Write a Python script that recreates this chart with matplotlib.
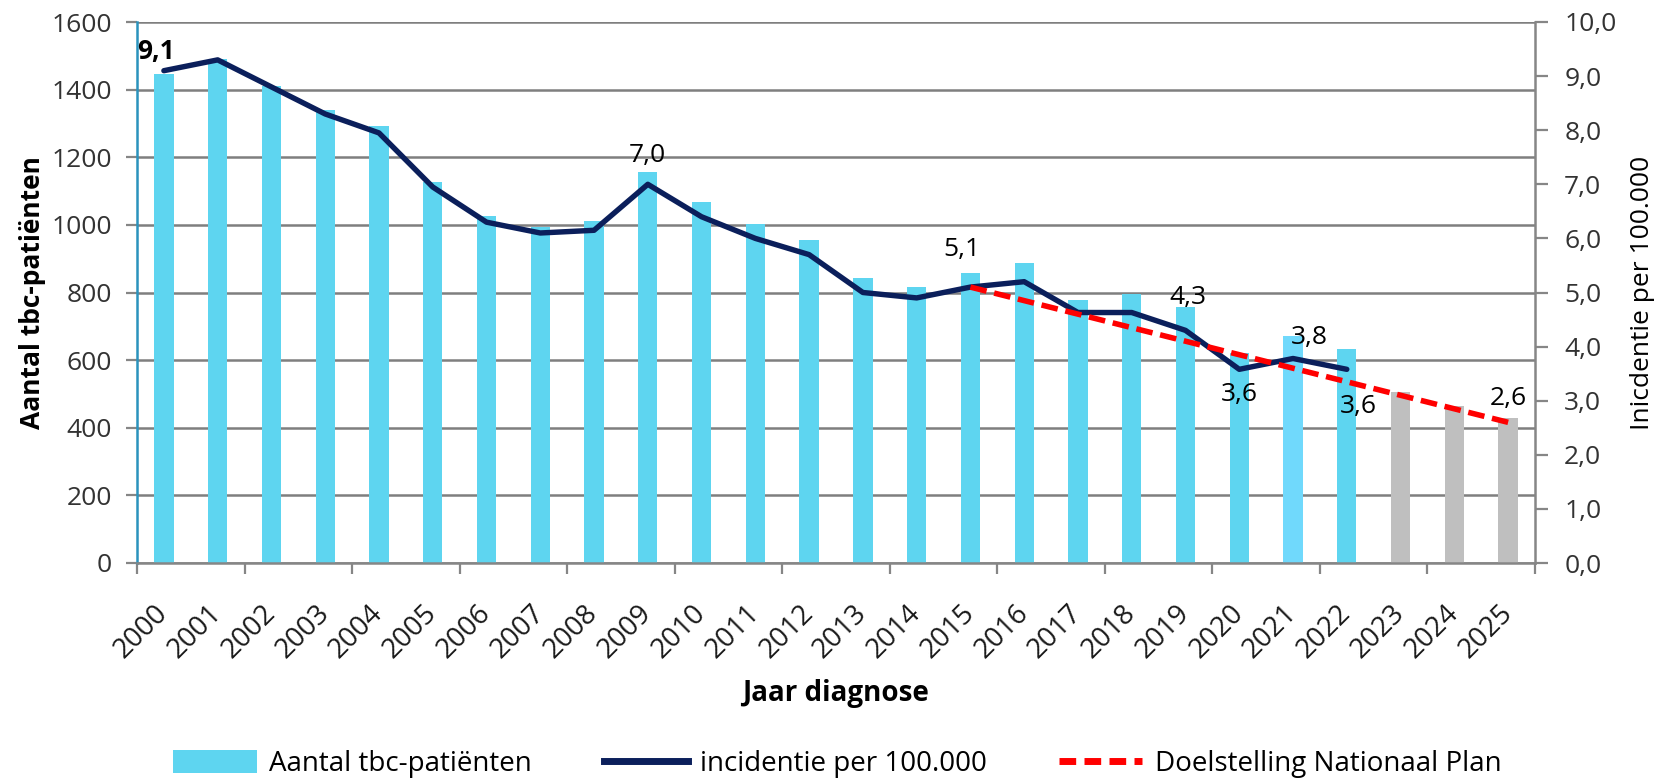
import matplotlib
matplotlib.use("Agg")
import matplotlib.pyplot as plt
from matplotlib.ticker import FuncFormatter
from matplotlib.lines import Line2D
from matplotlib.patches import Patch

plt.rcParams['font.family'] = ['Open Sans', 'DejaVu Sans']

# data
jaren = [str(j) for j in range(2000, 2026)]
patienten = [1447, 1490, 1411, 1340, 1291, 1127, 1027, 993, 1010, 1155,
             1069, 1003, 956, 842, 815, 859, 887, 778, 795, 757,
             620, 670, 633, 505, 465, 428]
incidentie = [9.1, 9.3, 8.8, 8.3, 7.95, 6.95, 6.3, 6.1, 6.15, 7.0,
              6.4, 6.0, 5.7, 5.0, 4.9, 5.1, 5.2, 4.63, 4.63, 4.3,
              3.58, 3.78, 3.58]
doel_jaren = jaren[15:]
doelstelling = [5.1, 4.85, 4.6, 4.35, 4.1, 3.85, 3.6, 3.35, 3.1, 2.85, 2.6]

# labels on the line: (index, text, offset in points)
labels_inc = [(0, "9,1", (-6, 14)), (9, "7,0", (0, 21)), (15, "5,1", (-6, 27)),
              (19, "4,3", (2, 24)), (20, "3,6", (0, -18)), (21, "3,8", (12, 15)),
              (22, "3,6", (8, -27))]

blauw = '#5ED5F0'
kleuren = [blauw] * 26
kleuren[21] = '#70D9FC'
for i in range(23, 26):
    kleuren[i] = '#BFBFBF'

fs = 19

fig = plt.figure(figsize=(16.65, 7.83), dpi=100)
ax = fig.add_axes([137/1665, 1 - 563/783, (1535 - 137)/1665, (563 - 22)/783])

x = list(range(len(jaren)))
ax.bar(x, patienten, width=0.36, color=kleuren, zorder=2)
ax.set_xlim(-0.5, len(jaren) - 0.5)
ax.set_ylim(0, 1600)
ax.set_yticks(range(0, 1601, 200))
ax.grid(axis='y', color='#7F7F7F', linewidth=1.8, zorder=0)
ax.set_axisbelow(True)

ax.set_xticks(x)
ax.set_xticklabels(jaren, rotation=45, ha='right', va='center',
                   rotation_mode='anchor', fontsize=20, color='#1a1a1a')
ax.tick_params(axis='x', which='major', length=0, pad=33)
ax.set_xticks([i - 0.5 for i in range(0, len(jaren) + 1, 2)], minor=True)
ax.tick_params(axis='x', which='minor', length=8, width=1.6, color='#868686', direction='out')
ax.tick_params(axis='y', length=8, width=1.6, color='#868686', labelsize=fs,
               labelcolor='#333333', pad=10)

for s in ['top', 'right']:
    ax.spines[s].set_visible(False)
ax.spines['left'].set_color('#2A93BD')
ax.spines['left'].set_linewidth(1.8)
ax.spines['bottom'].set_color('#868686')
ax.spines['bottom'].set_linewidth(1.8)

ax.set_ylabel("Aantal tbc-patiënten", fontsize=19, fontweight='bold')
ax.yaxis.label.set_va('center')
ax.yaxis.set_label_coords(-0.075, 0.5)
ax.set_xlabel("Jaar diagnose", fontsize=20, fontweight='bold')
ax.xaxis.set_label_coords(0.5, -0.215)

ax2 = ax.twinx()
ax2.set_ylim(0, 10)
ax2.set_yticks(range(0, 11))
ax2.yaxis.set_major_formatter(FuncFormatter(lambda v, p: f"{v:.1f}".replace('.', ',')))
ax2.tick_params(axis='y', length=9, width=1.6, color='#868686', labelsize=fs,
                labelcolor='#333333', pad=12)
for s in ['top', 'left', 'bottom']:
    ax2.spines[s].set_visible(False)
ax2.spines['right'].set_color('#868686')
ax2.spines['right'].set_linewidth(1.8)
ax2.set_ylabel("Inicdentie per 100.000", fontsize=19, rotation=90)
ax2.yaxis.label.set_va('center')
ax2.yaxis.set_label_coords(1.077, 0.5)

ax2.plot(x[:len(incidentie)], incidentie, color='#0B1F5B', linewidth=3.9,
         solid_joinstyle='round', solid_capstyle='round', zorder=3)
x_doel = x[15:]
ax2.plot(x_doel, doelstelling, color='#FF0000', linewidth=4.0,
         linestyle=(0, (3.0, 1.4)), zorder=4)

for i, tekst, off in labels_inc:
    ax2.annotate(tekst, (x[i], incidentie[i]), xytext=off, textcoords='offset points',
                 ha='center', va='center', fontsize=fs,
                 fontweight='bold' if i == 0 else 'normal')
ax2.annotate("2,6", (x_doel[-1], doelstelling[-1]), xytext=(0, 17),
             textcoords='offset points', ha='center', va='center', fontsize=fs)

handles = [Patch(facecolor=blauw, edgecolor='none'),
           Line2D([], [], color='#0B1F5B', linewidth=5),
           Line2D([], [], color='#FF0000', linewidth=5, linestyle=(0, (2.4, 1.2)))]
fig.legend(handles, ["Aantal tbc-patiënten", "incidentie per 100.000", "Doelstelling Nationaal Plan"],
           loc='center', bbox_to_anchor=(0.503, 0.024), ncol=3, frameon=False,
           fontsize=20, handlelength=3.0, handleheight=0.9, handletextpad=0.45,
           columnspacing=2.6)

fig.savefig("out.png", dpi=100)
